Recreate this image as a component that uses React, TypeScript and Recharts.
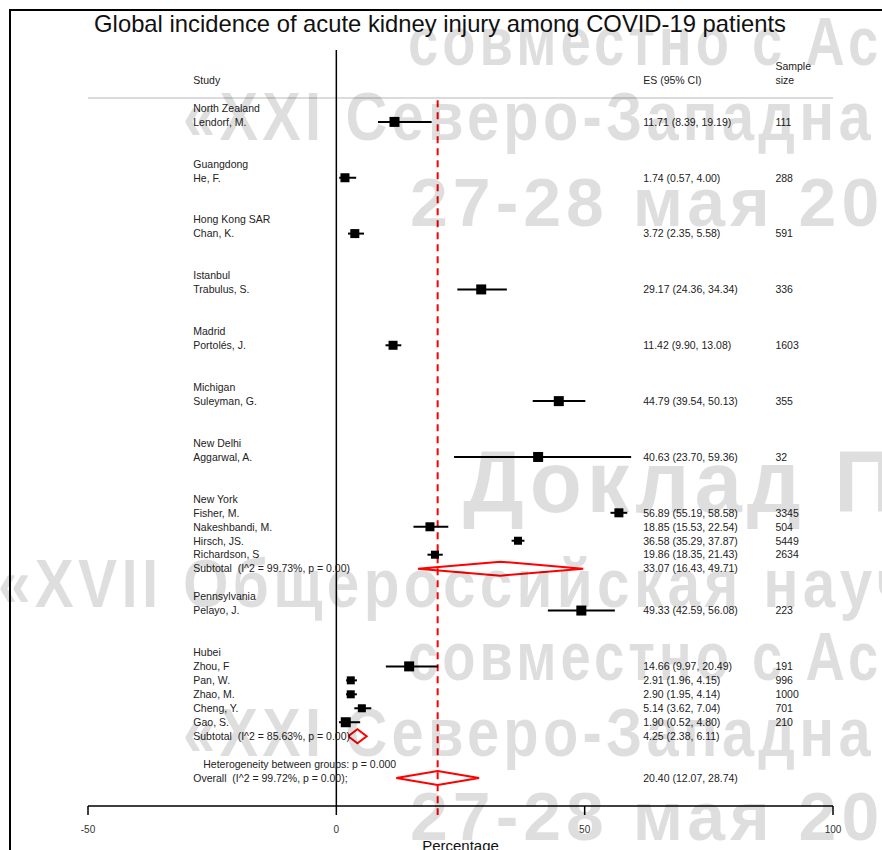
import {
  ComposedChart,
  Scatter,
  ErrorBar,
  XAxis,
  YAxis,
  ReferenceLine,
} from "recharts";

// region headers, in plot order
const regions = [
  "North Zealand",
  "Guangdong",
  "Hong Kong SAR",
  "Istanbul",
  "Madrid",
  "Michigan",
  "New Delhi",
  "New York",
  "Pennsylvania",
  "Hubei",
];

const authors = [
  "Lendorf, M.",
  "He, F.",
  "Chan, K.",
  "Trabulus, S.",
  "Portolés, J.",
  "Suleyman, G.",
  "Aggarwal, A.",
  "Fisher, M.",
  "Nakeshbandi, M.",
  "Hirsch, JS.",
  "Richardson, S",
  "Pelayo, J.",
  "Zhou, F",
  "Pan, W.",
  "Zhao, M.",
  "Cheng, Y.",
  "Gao, S.",
];
const authorRegion = [0, 1, 2, 3, 4, 5, 6, 7, 7, 7, 7, 8, 9, 9, 9, 9, 9];
const es = [11.71, 1.74, 3.72, 29.17, 11.42, 44.79, 40.63, 56.89, 18.85, 36.58, 19.86, 49.33, 14.66, 2.91, 2.9, 5.14, 1.9];
const ciLow = [8.39, 0.57, 2.35, 24.36, 9.9, 39.54, 23.7, 55.19, 15.53, 35.29, 18.35, 42.59, 9.97, 1.96, 1.95, 3.62, 0.52];
const ciHigh = [19.19, 4.0, 5.58, 34.34, 13.08, 50.13, 59.36, 58.58, 22.54, 37.87, 21.43, 56.08, 20.49, 4.15, 4.14, 7.04, 4.8];
const sampleSize = [111, 288, 591, 336, 1603, 355, 32, 3345, 504, 5449, 2634, 223, 191, 996, 1000, 701, 210];
// relative study weight (drawn as box side)
const weights = [10, 9, 9, 10, 9, 10, 10, 9, 9, 8, 8, 10, 10, 8, 8, 8, 10];

const subtotalRegions = [7, 9];
const subtotalEs = [33.07, 4.25];
const subtotalLow = [16.43, 2.38];
const subtotalHigh = [49.71, 6.11];
const subtotalI2 = ["99.73", "85.63"];

const overallEs = 20.4;
const overallLow = 12.07;
const overallHigh = 28.74;
const overallI2 = "99.72";

const xTicks = [-50, 0, 50, 100];

// text column positions (in axis units)
const X_STUDY = -28.8;
const X_HET = -26.8;
const X_ES = 61.8;
const X_N = 88.4;

const FONT = "'Liberation Sans', Arial, Helvetica, sans-serif";

const fmt = (v: number) => v.toFixed(2);

type Lbl = { x: number; y: number; text: string };
const labels: Lbl[] = [
  { x: X_STUDY, y: -2, text: "Study" },
  { x: X_ES, y: -2, text: "ES (95% CI)" },
  { x: X_N, y: -3, text: "Sample" },
  { x: X_N, y: -2, text: "size" },
];
const points: any[] = [];
const diamonds: any[][] = [];

const diamond = (lo: number, mid: number, hi: number, r: number) => [
  { x: lo, y: r },
  { x: mid, y: r - 0.5 },
  { x: hi, y: r },
  { x: mid, y: r + 0.5 },
  { x: lo, y: r },
];

let row = 0;
regions.forEach((reg, gi) => {
  labels.push({ x: X_STUDY, y: row, text: reg });
  row++;
  authors.forEach((a, i) => {
    if (authorRegion[i] !== gi) return;
    labels.push({ x: X_STUDY, y: row, text: a });
    labels.push({ x: X_ES, y: row, text: `${fmt(es[i])} (${fmt(ciLow[i])}, ${fmt(ciHigh[i])})` });
    labels.push({ x: X_N, y: row, text: String(sampleSize[i]) });
    points.push({ x: es[i], y: row, err: [es[i] - ciLow[i], ciHigh[i] - es[i]], w: weights[i] });
    row++;
  });
  const si = subtotalRegions.indexOf(gi);
  if (si >= 0) {
    labels.push({ x: X_STUDY, y: row, text: `Subtotal  (I^2 = ${subtotalI2[si]}%, p = 0.00)` });
    labels.push({ x: X_ES, y: row, text: `${fmt(subtotalEs[si])} (${fmt(subtotalLow[si])}, ${fmt(subtotalHigh[si])})` });
    diamonds.push(diamond(subtotalLow[si], subtotalEs[si], subtotalHigh[si], row));
  }
  row += 2;
});
labels.push({ x: X_HET, y: row, text: "Heterogeneity between groups: p = 0.000" });
row++;
labels.push({ x: X_STUDY, y: row, text: `Overall  (I^2 = ${overallI2}%, p = 0.00);` });
labels.push({ x: X_ES, y: row, text: `${fmt(overallEs)} (${fmt(overallLow)}, ${fmt(overallHigh)})` });
diamonds.push(diamond(overallLow, overallEs, overallHigh, row));

// overlay watermark (not chart data)
const watermark = [
  { text: "совместно с Ас", x: 408, y: 65, size: 68, sx: 0.8 },
  { text: "«XXI Северо-Западна", x: 183, y: 140, size: 68, sx: 0.85 },
  { text: "27-28 мая 20", x: 410, y: 226, size: 68, sx: 1.0 },
  { text: "Доклад П", x: 463, y: 512, size: 88, sx: 0.97 },
  { text: "«XVII Общероссийская науч", x: -2, y: 607, size: 68, sx: 0.86 },
  { text: "совместно с Ас", x: 408, y: 680, size: 68, sx: 0.8 },
  { text: "«XXI Северо-Западна", x: 183, y: 756, size: 68, sx: 0.85 },
  { text: "27-28 мая 20", x: 410, y: 840, size: 68, sx: 1.0 },
];

const TextShape = (p: any) => (
  <text
    x={p.cx}
    y={p.cy}
    dy="0.36em"
    fontSize={10.5}
    fill="#222"
    fontFamily={FONT}
    style={{ whiteSpace: "pre" }}
  >
    {p.payload.text}
  </text>
);

const BoxShape = (p: any) => {
  const s = p.payload.w;
  return <rect x={p.cx - s / 2} y={p.cy - s / 2} width={s} height={s} fill="#000" />;
};

const NoShape = () => <g />;

export default function App() {
  return (
    <div style={{ position: "absolute", left: 0, top: 0, width: 882, height: 850, background: "#fff", overflow: "hidden" }}>
      <div
        style={{
          position: "absolute",
          left: 9,
          top: 9,
          width: 1000,
          height: 1000,
          borderLeft: "2px solid #000",
          borderTop: "2px solid #000",
        }}
      />
      <div
        style={{
          position: "absolute",
          left: 0,
          top: 9,
          width: 880,
          textAlign: "center",
          fontFamily: FONT,
          fontSize: 23.8,
          lineHeight: "30px",
          color: "#111",
        }}
      >
        Global incidence of acute kidney injury among COVID-19 patients
      </div>
      <div style={{ position: "absolute", left: 0, top: 0 }}>
        <ComposedChart width={882} height={850} margin={{ top: 50, right: 49, bottom: 0, left: 88 }}>
          <XAxis
            type="number"
            dataKey="x"
            domain={[-50, 100]}
            allowDataOverflow
            ticks={xTicks}
            tickSize={9}
            tickMargin={11}
            height={44}
            stroke="#000"
            strokeWidth={1.5}
            tick={{ fontSize: 10, fill: "#333", fontFamily: FONT }}
            label={{ value: "Percentage", position: "insideBottom", offset: -1, fontSize: 15, fill: "#111", fontFamily: FONT }}
          />
          <YAxis type="number" dataKey="y" domain={[-4.15, 50]} allowDataOverflow reversed hide />
          <ReferenceLine y={-0.72} stroke="#cfcfcf" strokeWidth={1.5} />
          <ReferenceLine
            segment={[{ x: 0, y: -4.15 }, { x: 0, y: 50 }]}
            stroke="#000"
            strokeWidth={1.5}
            ifOverflow="visible"
          />
          <ReferenceLine
            segment={[{ x: overallEs, y: -0.55 }, { x: overallEs, y: 50.65 }]}
            stroke="#f00"
            strokeWidth={2}
            strokeDasharray="7 5"
            ifOverflow="visible"
          />
          <Scatter data={points} shape={BoxShape} isAnimationActive={false}>
            <ErrorBar dataKey="err" direction="x" width={0} stroke="#000" strokeWidth={2} isAnimationActive={false} />
          </Scatter>
          {diamonds.map((d, i) => (
            <Scatter
              key={i}
              data={d}
              shape={NoShape}
              line={{ stroke: "#f00", strokeWidth: 2 }}
              lineJointType="linear"
              isAnimationActive={false}
            />
          ))}
          <Scatter data={labels} shape={TextShape} isAnimationActive={false} />
        </ComposedChart>
      </div>
      <svg width={882} height={850} style={{ position: "absolute", left: 0, top: 0, pointerEvents: "none" }}>
        {watermark.map((w, i) => (
          <text
            key={i}
            transform={`translate(${w.x},${w.y}) scale(${w.sx},1)`}
            fontSize={w.size}
            fontWeight="bold"
            letterSpacing={5}
            fontFamily={FONT}
            fill="rgba(0,0,0,0.13)"
          >
            {w.text}
          </text>
        ))}
      </svg>
    </div>
  );
}
